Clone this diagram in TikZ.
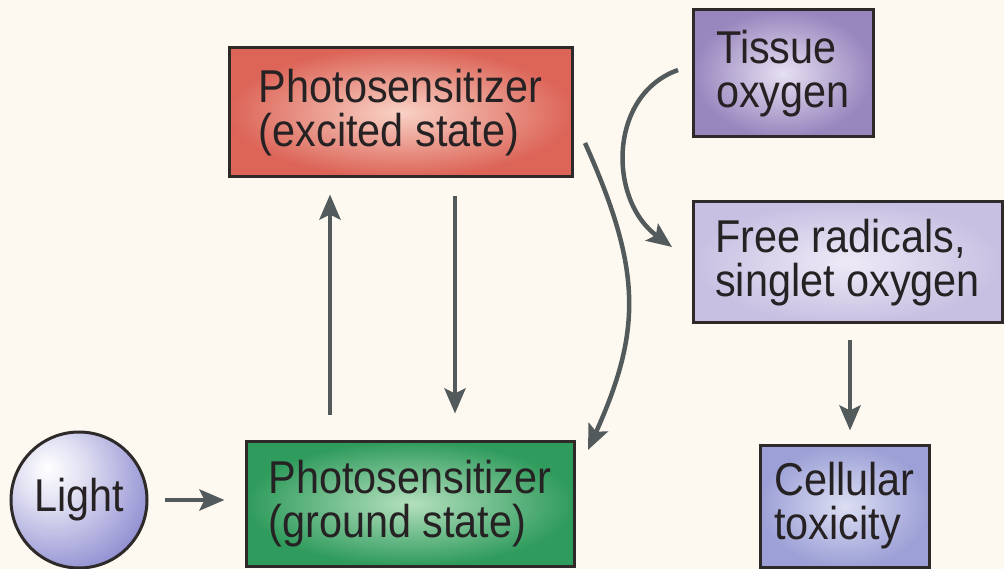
\documentclass[tikz,border=0pt]{standalone}
\usepackage{fontspec}
\setmainfont{Liberation Sans}[FakeStretch=0.9]
\usetikzlibrary{arrows.meta}
\definecolor{bg}{HTML}{FDF9F0}
\definecolor{arr}{HTML}{535A5C}
\definecolor{bord}{HTML}{2E2A2A}
\definecolor{txt}{HTML}{262224}
\definecolor{redo}{HTML}{DC6558}
\definecolor{redi}{HTML}{F9D2C6}
\definecolor{greeno}{HTML}{2F9B5C}
\definecolor{greeni}{HTML}{B4E0BE}
\definecolor{purpo}{HTML}{9886BE}
\definecolor{purpi}{HTML}{E6E0F2}
\definecolor{lavo}{HTML}{C8C0E2}
\definecolor{lavi}{HTML}{EEEAF7}
\definecolor{blueo}{HTML}{9CA0D6}
\definecolor{bluei}{HTML}{DCDEF2}
\definecolor{ballc}{HTML}{8886CE}
\pgfdeclareradialshading{lightball}{\pgfpoint{-12bp}{12bp}}{%
  color(0bp)=(white);
  color(12bp)=(white!75!ballc);
  color(35bp)=(ballc!90!white);
  color(55bp)=(ballc);
  color(100bp)=(ballc)}
\begin{document}
\begin{tikzpicture}[x=1pt,y=-1pt,
  box/.style={draw=bord, line width=3pt, rectangle, inner sep=0pt,
    align=left, text=txt, font=\fontsize{46}{44}\selectfont},
  flow/.style={draw=arr, line width=4.5pt,
    -{Stealth[length=25pt,width=21pt,inset=5pt]}}]
\useasboundingbox[fill=bg] (0,0) rectangle (1004,569);

\node[box, minimum width=343pt, minimum height=129pt,
  inner color=redi, outer color=redo] (red) at (400.5,112.5)
  {Photosensitizer\\(excited state)};
\node[box, minimum width=328pt, minimum height=125pt,
  inner color=greeni, outer color=greeno] (green) at (410,503.5)
  {Photosensitizer\\(ground state)};
\node[box, minimum width=180pt, minimum height=127pt,
  inner color=purpi, outer color=purpo] (tissue) at (783,73.5)
  {Tissue\\oxygen};
\node[box, minimum width=309pt, minimum height=121pt,
  inner color=lavi, outer color=lavo] (free) at (847.5,262.5)
  {Free radicals,\\singlet oxygen};
\node[box, minimum width=169pt, minimum height=122pt,
  inner color=bluei, outer color=blueo] (cell) at (844.5,506)
  {Cellular\\toxicity};
\node[circle, draw=bord, line width=3pt, minimum size=136pt, inner sep=0pt,
  shading=lightball, text=txt, font=\fontsize{46}{44}\selectfont]
  (light) at (79,500) {Light};

% straight arrows
\draw[flow, shorten <=16pt, shorten >=20pt] (light.east) -- (light.east -| green.west);
\draw[flow, shorten <=25pt, shorten >=16pt] (green.north -| 330,0) -- (red.south -| 330,0);
\draw[flow, shorten <=18pt, shorten >=26pt] (red.south -| 455,0) -- (green.north -| 455,0);
\draw[flow, shorten <=15pt, shorten >=13pt] (free.south -| 850,0) -- (cell.north -| 850,0);

% curved arrows
\coordinate (rs) at (585,143);
\coordinate (ge) at (588,450);
\draw[flow] (rs) .. controls (642,270) and (642,330) .. (ge);
\coordinate (ts) at (678,70);
\coordinate (fe) at (672,247);
\draw[flow] (ts) .. controls (608,95) and (608,200) .. (fe);
\end{tikzpicture}
\end{document}
